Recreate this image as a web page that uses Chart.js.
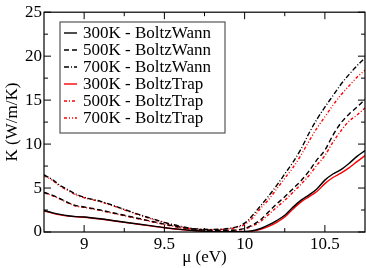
<!DOCTYPE html>
<html>
<head>
<meta charset="utf-8">
<script src="https://cdn.jsdelivr.net/npm/chart.js@4.4.1/dist/chart.umd.min.js"></script>
<style>
  html, body { margin: 0; padding: 0; background: #fff; }
  #wrap { width: 366px; height: 268px; }
</style>
</head>
<body>
<div id="wrap"><canvas id="kappaChart"></canvas></div>
<script>
// chemical potential grid (eV)
const mu = [8.75, 8.8, 8.85, 8.9, 8.95, 9.0, 9.1, 9.2, 9.3, 9.4, 9.5, 9.6, 9.7, 9.8, 9.9,
    10.0, 10.05, 10.1, 10.15, 10.2, 10.25, 10.3, 10.35, 10.4, 10.45, 10.5, 10.55, 10.6, 10.65, 10.7, 10.75];

// thermal conductivity K (W/m/K)
const k300Wann = [2.45, 2.2, 2.0, 1.85, 1.75, 1.7, 1.5, 1.25, 1.0, 0.75, 0.5, 0.3, 0.15, 0.05, 0.03,
    0.05, 0.15, 0.4, 0.8, 1.3, 1.9, 2.8, 3.6, 4.2, 4.9, 5.9, 6.6, 7.1, 7.8, 8.6, 9.25];
const k500Wann = [4.5, 4.2, 3.8, 3.35, 3.0, 2.85, 2.5, 2.1, 1.7, 1.3, 0.9, 0.55, 0.3, 0.2, 0.2,
    0.4, 0.8, 1.4, 2.3, 3.2, 4.0, 4.9, 5.8, 6.9, 8.2, 9.3, 11.0, 12.4, 13.4, 14.2, 15.1];
const k700Wann = [6.5, 6.0, 5.3, 4.8, 4.3, 3.95, 3.5, 2.9, 2.25, 1.65, 1.1, 0.65, 0.35, 0.3, 0.4,
    1.0, 1.9, 3.0, 4.1, 5.3, 6.6, 7.9, 9.4, 11.2, 12.8, 14.2, 15.5, 16.8, 17.9, 18.9, 19.8];
const k300Trap = [2.4, 2.15, 1.95, 1.8, 1.72, 1.68, 1.48, 1.22, 0.98, 0.72, 0.48, 0.28, 0.13, 0.04, 0.02,
    0.03, 0.1, 0.3, 0.65, 1.1, 1.7, 2.6, 3.4, 4.0, 4.6, 5.5, 6.2, 6.7, 7.3, 8.0, 8.7];
const k500Trap = [4.45, 4.15, 3.75, 3.3, 2.95, 2.8, 2.45, 2.05, 1.65, 1.25, 0.85, 0.5, 0.27, 0.18, 0.18,
    0.35, 0.7, 1.2, 2.0, 2.8, 3.6, 4.5, 5.4, 6.4, 7.6, 8.7, 10.2, 11.5, 12.6, 13.3, 14.1];
const k700Trap = [6.4, 5.9, 5.2, 4.7, 4.2, 3.9, 3.45, 2.85, 2.2, 1.6, 1.05, 0.6, 0.32, 0.27, 0.35,
    0.85, 1.6, 2.7, 3.7, 4.9, 6.1, 7.3, 8.7, 10.3, 11.8, 13.1, 14.4, 15.6, 16.6, 17.6, 18.4];

const seriesLabels = ['300K - BoltzWann', '500K - BoltzWann', '700K - BoltzWann',
    '300K - BoltzTrap', '500K - BoltzTrap', '700K - BoltzTrap'];

// tick values
const xTicks = [9, 9.5, 10, 10.5];
const xMinorTicks = [9.25, 9.75, 10.25];
const yTicks = [0, 5, 10, 15, 20, 25];
const yMinorTicks = [2.5, 7.5, 12.5, 17.5, 22.5];

const serif = "'Liberation Serif', 'DejaVu Serif', serif";

const styles = [
    { color: '#000', dash: [] },
    { color: '#000', dash: [5, 3] },
    { color: '#000', dash: [5, 2, 1, 2] },
    { color: '#ff0000', dash: [] },
    { color: '#ff0000', dash: [3, 2, 1, 2] },
    { color: '#ff0000', dash: [3, 2, 1, 2, 1, 2] }
];

const allSeries = [k300Wann, k500Wann, k700Wann, k300Trap, k500Trap, k700Trap];

const datasets = allSeries.map((vals, i) => ({
    label: seriesLabels[i],
    data: mu.map((m, j) => ({ x: m, y: vals[j] })),
    borderColor: styles[i].color,
    borderDash: styles[i].dash,
    borderWidth: 1.4,
    pointRadius: 0,
    fill: false,
    cubicInterpolationMode: 'monotone'
}));

// inward ticks on all four sides, the frame and the boxed legend
const framePlugin = {
    id: 'frame',
    afterDraw(chart) {
        const ctx = chart.ctx;
        const a = chart.chartArea;
        const xs = chart.scales.x, ys = chart.scales.y;
        ctx.save();
        ctx.strokeStyle = '#000';
        ctx.lineWidth = 1.2;
        ctx.setLineDash([]);
        ctx.strokeRect(a.left, a.top, a.right - a.left, a.bottom - a.top);

        ctx.lineWidth = 1;
        const tick = (x1, y1, x2, y2) => {
            ctx.beginPath(); ctx.moveTo(x1, y1); ctx.lineTo(x2, y2); ctx.stroke();
        };
        xTicks.forEach(v => {
            const px = xs.getPixelForValue(v);
            tick(px, a.bottom, px, a.bottom - 7);
            tick(px, a.top, px, a.top + 7);
        });
        xMinorTicks.forEach(v => {
            const px = xs.getPixelForValue(v);
            tick(px, a.bottom, px, a.bottom - 4);
            tick(px, a.top, px, a.top + 4);
        });
        yTicks.forEach(v => {
            const py = ys.getPixelForValue(v);
            tick(a.left, py, a.left + 7, py);
            tick(a.right, py, a.right - 7, py);
        });
        yMinorTicks.forEach(v => {
            const py = ys.getPixelForValue(v);
            tick(a.left, py, a.left + 4, py);
            tick(a.right, py, a.right - 4, py);
        });

        // legend box
        ctx.fillStyle = '#fff';
        ctx.fillRect(60, 22, 165, 111);
        ctx.strokeStyle = '#555';
        ctx.lineWidth = 1.2;
        ctx.strokeRect(60, 22, 165, 111);
        ctx.font = '17px ' + serif;
        ctx.textBaseline = 'middle';
        ctx.fillStyle = '#000';
        seriesLabels.forEach((lab, i) => {
            const y = 33 + i * 17;
            ctx.strokeStyle = styles[i].color;
            ctx.setLineDash(styles[i].dash);
            ctx.lineWidth = 1.4;
            tick(64, y, 77, y);
            ctx.setLineDash([]);
            ctx.fillText(lab, 83, y + 1);
        });
        ctx.restore();
    }
};

new Chart(document.getElementById('kappaChart').getContext('2d'), {
    type: 'line',
    data: { datasets },
    options: {
        responsive: true,
        maintainAspectRatio: false,
        animation: false,
        layout: { padding: { top: 6, right: 1, left: 0, bottom: 0 } },
        plugins: { legend: { display: false }, tooltip: { enabled: false } },
        scales: {
            x: {
                type: 'linear',
                min: 8.75,
                max: 10.75,
                afterBuildTicks: s => { s.ticks = xTicks.map(v => ({ value: v })); },
                afterFit: s => { s.height = 36; },
                grid: { display: false, drawTicks: false },
                border: { display: false },
                ticks: { color: '#000', font: { family: serif, size: 17 }, padding: 2, maxRotation: 0,
                    callback: v => String(v) },
                title: { display: true, text: 'μ (eV)', color: '#000', font: { family: serif, size: 17 }, padding: { top: 0, bottom: 0 } }
            },
            y: {
                min: 0,
                max: 25,
                afterBuildTicks: s => { s.ticks = yTicks.map(v => ({ value: v })); },
                afterFit: s => { s.width = 44; },
                grid: { display: false, drawTicks: false },
                border: { display: false },
                ticks: { color: '#000', font: { family: serif, size: 17 }, padding: 2 },
                title: { display: true, text: 'K (W/m/K)', color: '#000', font: { family: serif, size: 17 }, padding: { top: 2, bottom: 0 } }
            }
        }
    },
    plugins: [framePlugin]
});
</script>
</body>
</html>
